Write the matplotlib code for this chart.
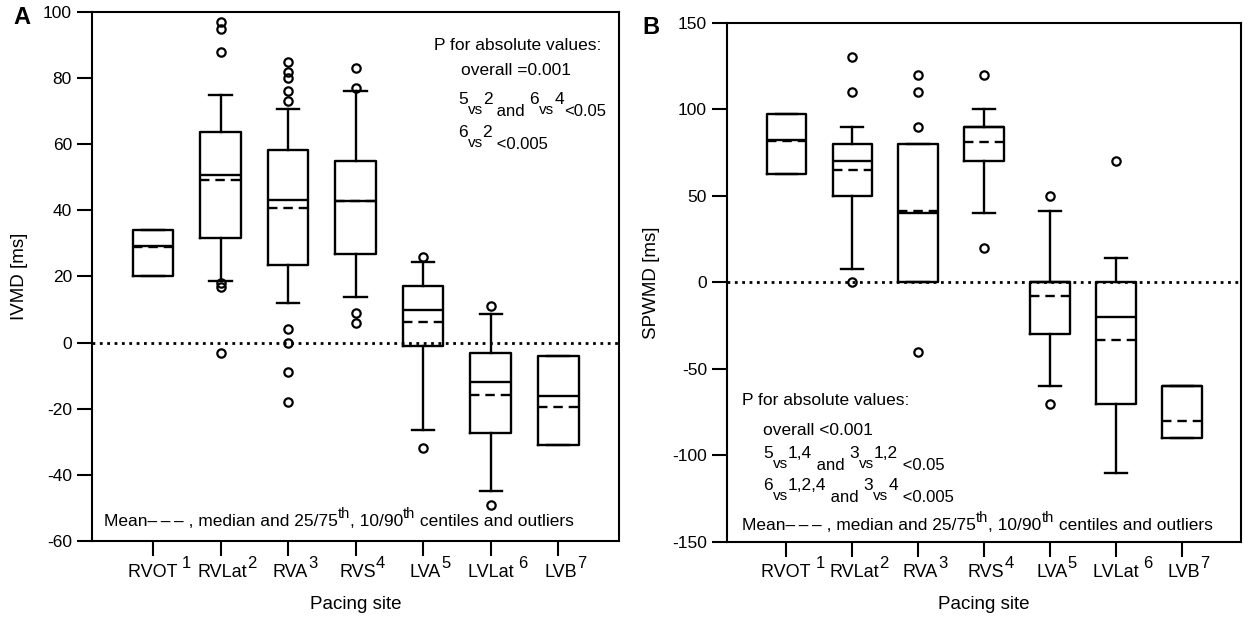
import matplotlib
matplotlib.use("Agg")
import matplotlib.pyplot as plt
from matplotlib.transforms import offset_copy

plt.rcParams['font.family'] = ['Liberation Sans', 'DejaVu Sans']
plt.rcParams['axes.unicode_minus'] = False

# pacing sites (name, superscript index)
sites = ['RVOT ', 'RVLat', 'RVA', 'RVS', 'LVA', 'LVLat ', 'LVB']
site_nums = ['1', '2', '3', '4', '5', '6', '7']

# panel A: IVMD [ms]
ivmd_q1 = [20, 31.7, 23.4, 26.8, -1, -27.2, -31]
ivmd_med = [29.3, 50.6, 43, 42.9, 10, -12, -16]
ivmd_q3 = [34, 63.6, 58.4, 54.9, 17, -3, -4]
ivmd_mean = [29, 49.2, 40.8, 42.7, 6.2, -15.9, -19.6]
ivmd_lo = [20, 18.6, 11.9, 13.9, -26.3, -44.9, -31]
ivmd_hi = [34, 75, 70.6, 76, 24.5, 8.6, -4]
ivmd_out = [[], [97, 95, 88, 18, 16.8, -3], [85, 82, 80, 76, 73, 4, 0, -9, -18],
            [83, 77, 9, 6], [26, -32], [11, -49], []]

# panel B: SPWMD [ms]
spwmd_q1 = [62.8, 50, 0, 70, -30, -70, -90]
spwmd_med = [82.5, 70, 40, 90, 0, -20, -60]
spwmd_q3 = [97.6, 80, 80, 90, 0, 0, -60]
spwmd_mean = [82, 65, 41.5, 81, -7.7, -33, -80]
spwmd_lo = [62.8, 8, 0, 40, -60, -110, -90]
spwmd_hi = [97.6, 90, 80, 100, 41, 14, -60]
spwmd_out = [[], [130, 110, 0], [120, 110, 90, -40], [120, 20], [50, -70], [70], []]

# annotation lines: (text, size, raise in points)
notes_A = [
    [('5', 12.5, 8.5), ('vs', 11, 1.5), ('2', 12.5, 8.5), (' and ', 12, 0),
     ('6', 12.5, 8.5), ('vs', 11, 1.5), ('4', 12.5, 8.5), ('<0.05', 12, 0)],
    [('6', 12.5, 8.5), ('vs', 11, 1.5), ('2', 12.5, 8.5), (' <0.005', 12, 0)],
]
notes_B = [
    [('5', 12.5, 8.5), ('vs', 11, 1.5), ('1,4', 12.5, 8.5), (' and ', 12, 0),
     ('3', 12.5, 8.5), ('vs', 11, 1.5), ('1,2', 12.5, 8.5), (' <0.05', 12, 0)],
    [('6', 12.5, 8.5), ('vs', 11, 1.5), ('1,2,4', 12.5, 8.5), (' and ', 12, 0),
     ('3', 12.5, 8.5), ('vs', 11, 1.5), ('4', 12.5, 8.5), (' <0.005', 12, 0)],
]
legend_line = [('Mean\u2013\u2009\u2013\u2009\u2013 , median and 25/75', 12.5, 0), ('th', 10.5, 6),
               (', 10/90', 12.5, 0), ('th', 10.5, 6), (' centiles and outliers', 12.5, 0)]


def make_stats(q1, med, q3, mean, lo, hi, out):
    stats = []
    for i in range(len(q1)):
        stats.append(dict(q1=q1[i], med=med[i], q3=q3[i], mean=mean[i],
                          whislo=lo[i], whishi=hi[i], fliers=out[i]))
    return stats


def rich_text(ax, x, y, pieces, trans=None, center=False):
    if trans is None:
        trans = ax.transAxes
    renderer = fig.canvas.get_renderer()
    texts, widths = [], []
    for s, fs, dy in pieces:
        t = ax.text(x, y, s, transform=trans, fontsize=fs, va='baseline',
                    ha='left', clip_on=False)
        texts.append(t)
        widths.append(t.get_window_extent(renderer).width * 72 / fig.dpi)
    x_off = -sum(widths) / 2 if center else 0
    for t, w, (s, fs, dy) in zip(texts, widths, pieces):
        t.set_transform(offset_copy(trans, fig=fig, x=x_off, y=dy, units='points'))
        x_off += w


def draw_panel(ax, stats, ylim, yticks, ylabel, pad, lab_y):
    lw = 1.7
    ax.axhline(0, color='black', linestyle=':', lw=2, zorder=1)
    ax.bxp(stats, positions=range(1, 8), widths=0.6, capwidths=0.33,
           showmeans=True, meanline=True,
           boxprops=dict(color='black', lw=lw),
           medianprops=dict(color='black', lw=lw),
           whiskerprops=dict(color='black', lw=lw),
           capprops=dict(color='black', lw=lw),
           meanprops=dict(color='black', lw=lw, linestyle=(0, (4, 2.5))),
           flierprops=dict(marker='o', markerfacecolor='none',
                           markeredgecolor='black', markersize=6,
                           markeredgewidth=1.6))
    ax.set_xlim(0.1, 7.9)
    ax.set_ylim(*ylim)
    ax.set_yticks(yticks)
    ax.set_xticks(range(1, 8))
    ax.set_xticklabels([])
    ax.tick_params(axis='y', labelsize=12.5, length=11, width=1.5, direction='out')
    ax.tick_params(axis='x', length=11, width=1.5, direction='out')
    for s in ax.spines.values():
        s.set_linewidth(1.5)
    ax.set_xlabel('Pacing site', fontsize=13.5)
    ax.xaxis.set_label_coords(0.5, -0.104)
    ax.set_ylabel(ylabel, fontsize=13.5, labelpad=pad)
    # category labels with raised index
    for i, (name, num) in enumerate(zip(sites, site_nums)):
        rich_text(ax, i + 1.1, lab_y, [(name, 13, 0), (num, 12, 6.5)],
                  trans=ax.get_xaxis_transform(), center=True)


fig = plt.figure(figsize=(12.45, 6.18), dpi=100)
fs = 12.5

axA = fig.add_axes([0.074, 0.1246, 0.4233, 0.856])
draw_panel(axA, make_stats(ivmd_q1, ivmd_med, ivmd_q3, ivmd_mean, ivmd_lo, ivmd_hi, ivmd_out),
           (-60, 100), range(-60, 101, 20), 'IVMD [ms]', 11, -0.068)
axA.text(0.649, 0.929, 'P for absolute values:', transform=axA.transAxes, fontsize=fs, va='baseline')
axA.text(0.700, 0.881, 'overall =0.001', transform=axA.transAxes, fontsize=fs, va='baseline')
rich_text(axA, 0.694, 0.803, notes_A[0])
rich_text(axA, 0.694, 0.741, notes_A[1])
rich_text(axA, 0.022, 0.028, legend_line)
fig.text(0.011, 0.971, 'A', fontsize=17, fontweight='bold', va='center')

axB = fig.add_axes([0.584, 0.123, 0.413, 0.840])
draw_panel(axB, make_stats(spwmd_q1, spwmd_med, spwmd_q3, spwmd_mean, spwmd_lo, spwmd_hi, spwmd_out),
           (-150, 150), range(-150, 151, 50), 'SPWMD [ms]', 9, -0.067)
axB.text(0.029, 0.264, 'P for absolute values:', transform=axB.transAxes, fontsize=fs, va='baseline')
axB.text(0.070, 0.206, 'overall <0.001', transform=axB.transAxes, fontsize=fs, va='baseline')
rich_text(axB, 0.070, 0.139, notes_B[0])
rich_text(axB, 0.070, 0.077, notes_B[1])
rich_text(axB, 0.029, 0.023, legend_line)
fig.text(0.516, 0.956, 'B', fontsize=17, fontweight='bold', va='center')

fig.savefig('out.png', dpi=100)
